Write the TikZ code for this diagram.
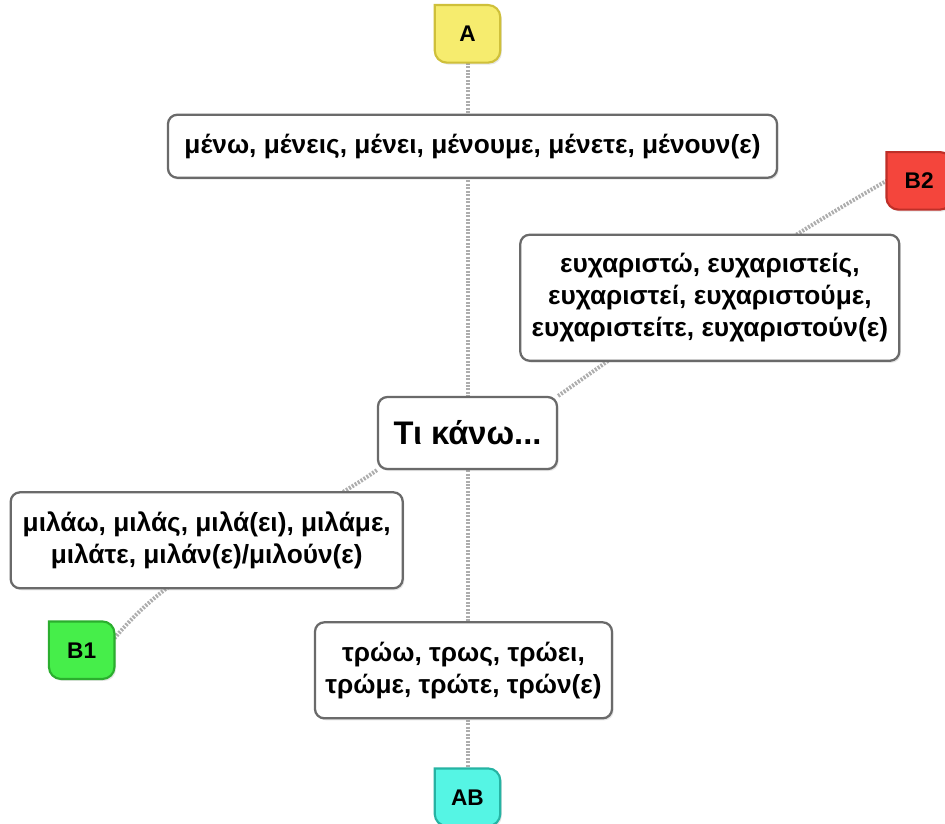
\documentclass[tikz,border=0pt]{standalone}
\usepackage{fontspec}
\setmainfont{Liberation Sans}
\usetikzlibrary{positioning, backgrounds, shadows}
\definecolor{formedge}{HTML}{6A6A6A}
\definecolor{linkgray}{HTML}{ADADAD}
\definecolor{tagyellow}{HTML}{F6EC6E}
\definecolor{tagyellowedge}{HTML}{CFC03A}
\definecolor{tagred}{HTML}{F4453C}
\definecolor{tagrededge}{HTML}{BE2F28}
\definecolor{taggreen}{HTML}{46EE4A}
\definecolor{taggreenedge}{HTML}{2BAE2E}
\definecolor{tagcyan}{HTML}{55F5E4}
\definecolor{tagcyanedge}{HTML}{26B3A3}

% tag frame: rounded except the top left corner
\newcommand{\tagframe}[3]{%
    \draw[line width=1.6pt, draw=#3, fill=#2, rounded corners=9pt,
        drop shadow={opacity=0.2, shadow xshift=1.2pt, shadow yshift=-1.5pt}]
        (#1.north) -| (#1.east) |- (#1.south) -| (#1.west) [sharp corners] |- (#1.north);
}

\begin{document}
\begin{tikzpicture}[
    formbox/.style={
        draw=formedge,
        line width=1.7pt,
        fill=white,
        rounded corners=7pt,
        align=center,
        inner sep=0pt,
        font=\fontsize{19.7}{24}\selectfont\bfseries,
        drop shadow={opacity=0.2, shadow xshift=1.2pt, shadow yshift=-1.5pt}
    },
    tagbox/.style={
        minimum width=48.75pt,
        minimum height=42.75pt,
        inner sep=0pt,
        font=\fontsize{17}{19}\selectfont\bfseries
    },
    connector/.style={
        line width=3pt,
        linkgray,
        dash pattern=on 1.5pt off 1.1pt
    }
]
    \useasboundingbox (-350.6pt,-292.5pt) rectangle (358.1pt,324.75pt);

    \node[formbox, minimum width=134.25pt, minimum height=54pt,
        font=\fontsize{24.5}{28}\selectfont\bfseries] (ti) {Τι κάνω...};

    \node[formbox, minimum width=456.75pt, minimum height=47.25pt,
        above=162.75pt of ti, xshift=3.75pt] (menw)
        {μένω, μένεις, μένει, μένουμε, μένετε, μένουν(ε)};
    \node[tagbox, above=38.25pt of menw, xshift=-3.75pt] (a) {A};

    \node[formbox, minimum width=284.25pt, minimum height=94.5pt,
        above right=25.5pt and -29.25pt of ti] (eux)
        {ευχαριστώ, ευχαριστείς,\\ ευχαριστεί, ευχαριστούμε,\\ ευχαριστείτε, ευχαριστούν(ε)};
    \node[tagbox, above right=18pt and -10.5pt of eux] (b2) {B2};

    \node[formbox, minimum width=294pt, minimum height=72pt,
        below left=15.75pt and -20.25pt of ti] (milao)
        {μιλάω, μιλάς, μιλά(ει), μιλάμε,\\ μιλάτε, μιλάν(ε)/μιλούν(ε)};
    \node[tagbox, below=24pt of milao, xshift=-93.75pt] (b1) {B1};

    \node[formbox, minimum width=222.75pt, minimum height=72pt,
        below=113.25pt of ti, xshift=-3pt] (trow)
        {τρώω, τρως, τρώει,\\ τρώμε, τρώτε, τρών(ε)};
    \node[tagbox, below=36.75pt of trow, xshift=3pt] (ab) {AB};

    \begin{scope}[on background layer]
        \draw[connector] (a) -- (ti);
        \draw[connector] (ti) -- (ab);
        \draw[connector] (ti.north east) to[out=35, in=210] (b2.west);
        \draw[connector] (ti.south west) to[out=215, in=50] (b1.20);

        \tagframe{a}{tagyellow}{tagyellowedge}
        \tagframe{b2}{tagred}{tagrededge}
        \tagframe{b1}{taggreen}{taggreenedge}
        \tagframe{ab}{tagcyan}{tagcyanedge}
    \end{scope}
\end{tikzpicture}
\end{document}
